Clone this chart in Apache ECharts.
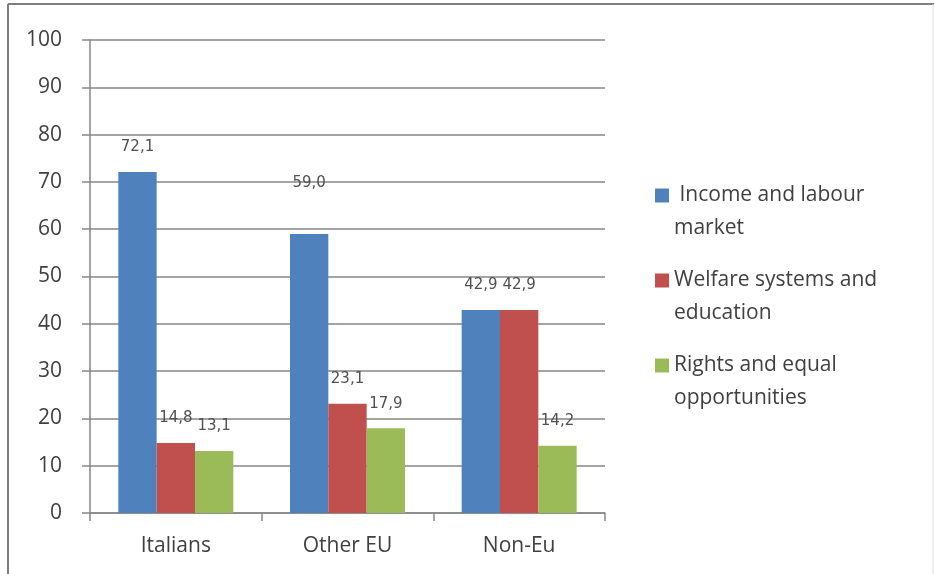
<!DOCTYPE html>
<html>
<head>
<meta charset="utf-8">
<script src="https://cdn.jsdelivr.net/npm/echarts@6/dist/echarts.min.js"></script>
<style>
  html, body { margin: 0; padding: 0; background: #fff; }
  #chart { width: 935px; height: 574px; }
</style>
</head>
<body>
<div id="chart"></div>
<script>
// groups on the x axis
var groups = ['Italians', 'Other EU', 'Non-Eu'];

// one array per series, values in %
var incomeLabour = [72.1, 59.0, 42.9];
var welfareEducation = [14.8, 23.1, 42.9];
var rightsEqual = [13.1, 17.9, 14.2];

var seriesNames = ['Income and labour market', 'Welfare systems and education', 'Rights and equal opportunities'];
var legendLines = [' Income and labour\nmarket', 'Welfare systems and\neducation', 'Rights and equal\nopportunities'];

var yTicks = [0, 10, 20, 30, 40, 50, 60, 70, 80, 90, 100];

var colors = ['#4F81BD', '#C0504D', '#9BBB59'];
var axisGray = '#868686';
var textGray = '#404040';
var mainFont = 'Open Sans';

function fmt(v) {
    return v.toFixed(1).replace('.', ',');
}

function makeSeries(name, values, idx) {
    return {
        name: name,
        type: 'bar',
        barGap: 0,
        barCategoryGap: '33%',
        itemStyle: { color: colors[idx] },
        label: {
            show: true,
            position: 'top',
            distance: 17,
            color: '#505050',
            fontFamily: 'DejaVu Sans',
            fontSize: 15,
            formatter: function (p) { return fmt(p.value); }
        },
        data: values.map(function (v, i) {
            // Excel put the 59,0 label higher than the others
            if (idx === 0 && i === 1) {
                return { value: v, label: { distance: 43 } };
            }
            return v;
        })
    };
}

var chart = echarts.init(document.getElementById('chart'));
chart.setOption({
    animation: false,
    textStyle: { fontFamily: mainFont },
    graphic: [
        { type: 'line', shape: { x1: 8, y1: 4, x2: 934, y2: 4 }, style: { stroke: '#7f7f7f', lineWidth: 2 } },
        { type: 'line', shape: { x1: 8, y1: 4, x2: 8, y2: 574 }, style: { stroke: '#7f7f7f', lineWidth: 2 } },
        { type: 'line', shape: { x1: 933, y1: 4, x2: 933, y2: 574 }, style: { stroke: '#dcdcdc', lineWidth: 1 } }
    ],
    grid: { left: 90, right: 330, top: 40, bottom: 61, containLabel: false },
    legend: {
        orient: 'vertical',
        left: 650,
        top: 141,
        itemWidth: 14,
        itemHeight: 14,
        itemGap: -14,
        icon: 'rect',
        data: seriesNames,
        formatter: function (name) {
            return '\n' + legendLines[seriesNames.indexOf(name)];
        },
        textStyle: { fontFamily: mainFont, fontSize: 21, color: textGray, lineHeight: 33 }
    },
    xAxis: {
        type: 'category',
        data: groups,
        axisLine: { lineStyle: { color: axisGray, width: 1.5 } },
        axisTick: { show: true, length: 8, interval: 0, lineStyle: { color: axisGray, width: 1.5 } },
        axisLabel: { color: textGray, fontSize: 21, margin: 23, fontFamily: mainFont }
    },
    yAxis: {
        type: 'value',
        min: yTicks[0],
        max: yTicks[yTicks.length - 1],
        interval: 10,
        axisLine: { show: true, lineStyle: { color: axisGray, width: 1.5 } },
        axisTick: { show: true, length: 8, lineStyle: { color: axisGray, width: 1.5 } },
        axisLabel: { color: textGray, fontSize: 21, margin: 28, fontFamily: mainFont },
        splitLine: { lineStyle: { color: axisGray, width: 1.5 } }
    },
    series: [
        makeSeries(seriesNames[0], incomeLabour, 0),
        makeSeries(seriesNames[1], welfareEducation, 1),
        makeSeries(seriesNames[2], rightsEqual, 2)
    ]
});
</script>
</body>
</html>
